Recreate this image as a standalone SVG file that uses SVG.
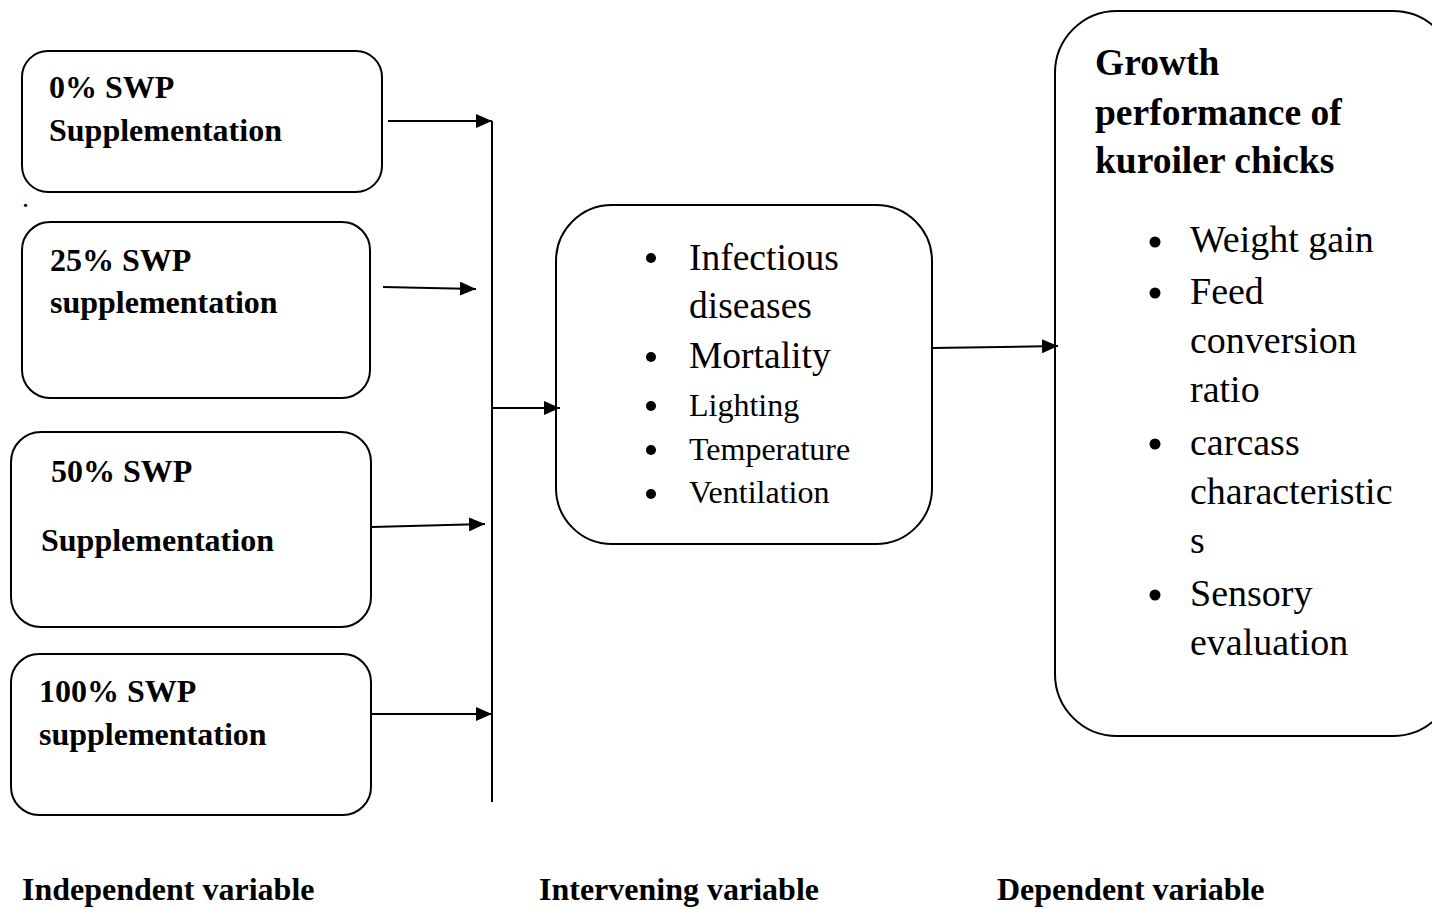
<svg xmlns="http://www.w3.org/2000/svg" width="1432" height="909" viewBox="0 0 1432 909">
<style>
.box{fill:#fff;stroke:#000;stroke-width:2}
.b{font-family:"Liberation Serif","Times New Roman",serif;font-weight:bold;fill:#000}
.r{font-family:"Liberation Serif","Times New Roman",serif;fill:#000}
.c{stroke:#000;stroke-width:2;fill:none}
</style>
<defs>
<marker id="ah" markerUnits="userSpaceOnUse" markerWidth="18" markerHeight="14" refX="16" refY="7" orient="auto">
<path d="M0,0 L16,7 L0,14 Z" fill="#000"/>
</marker>
</defs>
<rect width="1432" height="909" fill="#fff"/>
<g id="n0">
<rect class="box" x="22" y="51" width="360" height="141" rx="26"/>
<text class="b" font-size="32" x="49" y="98">0% SWP</text>
<text class="b" font-size="32" x="49" y="141">Supplementation</text>
</g>
<text class="r" font-size="28" x="22" y="207">.</text>
<g id="n25">
<rect class="box" x="22" y="222" width="348" height="176" rx="28"/>
<text class="b" font-size="32" x="50" y="271">25% SWP</text>
<text class="b" font-size="32" x="50" y="313">supplementation</text>
</g>
<g id="n50">
<rect class="box" x="11" y="432" width="360" height="195" rx="30"/>
<text class="b" font-size="32" x="51" y="482">50% SWP</text>
<text class="b" font-size="32" x="41" y="551">Supplementation</text>
</g>
<g id="n100">
<rect class="box" x="11" y="654" width="360" height="161" rx="28"/>
<text class="b" font-size="32" x="39" y="702">100% SWP</text>
<text class="b" font-size="32" x="39" y="745">supplementation</text>
</g>
<g id="intervening">
<rect class="box" x="556" y="205" width="376" height="339" rx="56"/>
<circle cx="651" cy="258" r="5"/>
<text class="r" font-size="37.5" x="689" y="270">Infectious</text>
<text class="r" font-size="37.5" x="689" y="318">diseases</text>
<circle cx="651" cy="357" r="5"/>
<text class="r" font-size="37.5" x="689" y="368">Mortality</text>
<circle cx="651" cy="406" r="5"/>
<text class="r" font-size="32" x="689" y="416">Lighting</text>
<circle cx="651" cy="450" r="5"/>
<text class="r" font-size="32" x="689" y="460">Temperature</text>
<circle cx="651" cy="494" r="5"/>
<text class="r" font-size="32" x="689" y="503">Ventilation</text>
</g>
<g id="dependent">
<rect class="box" x="1055" y="11" width="400" height="725" rx="62"/>
<text class="b" font-size="37.5" x="1095" y="75">Growth</text>
<text class="b" font-size="37.5" x="1095" y="125">performance of</text>
<text class="b" font-size="37.5" x="1095" y="173">kuroiler chicks</text>
<circle cx="1155" cy="242" r="5.5"/>
<text class="r" font-size="38" x="1190" y="252">Weight gain</text>
<circle cx="1155" cy="293" r="5.5"/>
<text class="r" font-size="38" x="1190" y="304">Feed</text>
<text class="r" font-size="38" x="1190" y="353">conversion</text>
<text class="r" font-size="38" x="1190" y="402">ratio</text>
<circle cx="1155" cy="444" r="5.5"/>
<text class="r" font-size="38" x="1190" y="455">carcass</text>
<text class="r" font-size="38" x="1190" y="504">characteristic</text>
<text class="r" font-size="38" x="1190" y="553">s</text>
<circle cx="1155" cy="595" r="5.5"/>
<text class="r" font-size="38" x="1190" y="606">Sensory</text>
<text class="r" font-size="38" x="1190" y="655">evaluation</text>
</g>
<g id="connectors">
<line class="c" x1="492" y1="121" x2="492" y2="802"/>
<line class="c" x1="388" y1="121" x2="492" y2="121" marker-end="url(#ah)"/>
<line class="c" x1="383" y1="287" x2="476" y2="289" marker-end="url(#ah)"/>
<line class="c" x1="372" y1="527" x2="485" y2="524" marker-end="url(#ah)"/>
<line class="c" x1="372" y1="714" x2="492" y2="714" marker-end="url(#ah)"/>
<line class="c" x1="492" y1="408" x2="560" y2="408" marker-end="url(#ah)"/>
<line class="c" x1="932" y1="348" x2="1058" y2="346" marker-end="url(#ah)"/>
</g>
<g id="labels">
<text class="b" font-size="32" x="22" y="900">Independent variable</text>
<text class="b" font-size="32" x="539" y="900">Intervening variable</text>
<text class="b" font-size="32" x="997" y="900">Dependent variable</text>
</g>
</svg>
